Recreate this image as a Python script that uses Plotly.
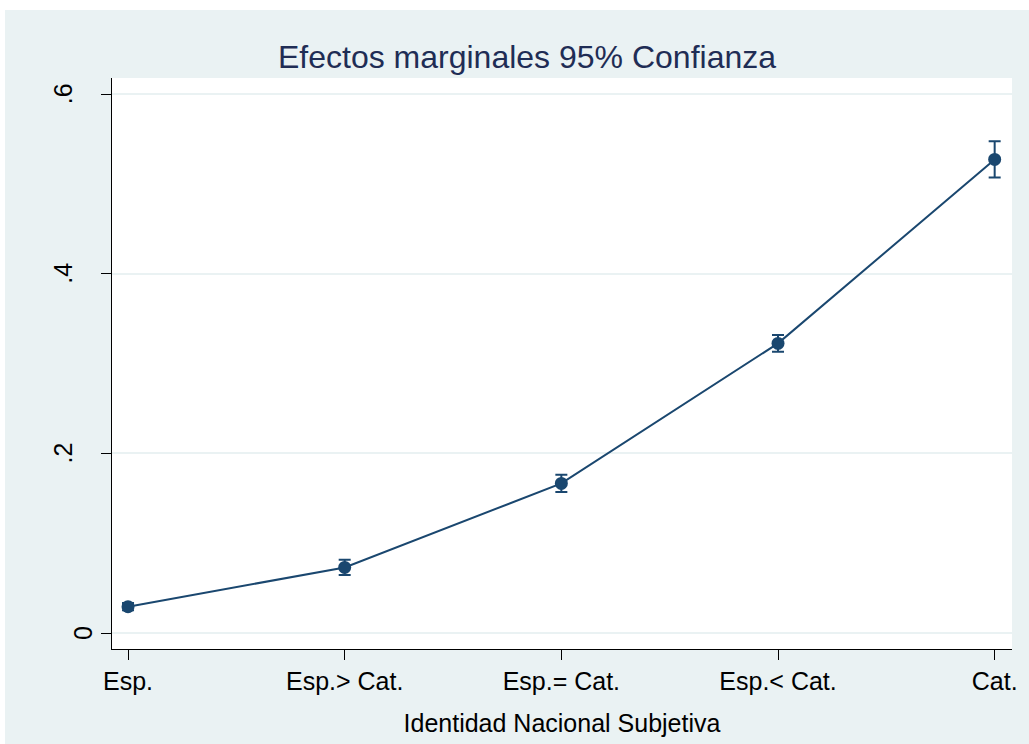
import plotly.graph_objects as go

categories = ["Esp.", "Esp.> Cat.", "Esp.= Cat.", "Esp.< Cat.", "Cat."]
margins = [0.0293, 0.0730, 0.1666, 0.3225, 0.5273]
ci_half = [0.0040, 0.0085, 0.0096, 0.0093, 0.0202]
y_tickvals = [0, 0.2, 0.4, 0.6]
y_ticktext = ["0", ".2", ".4", ".6"]

NAVY = "#1A476F"
BG = "#EAF2F3"
FONT = "Liberation Sans, Arial, sans-serif"

W, H = 1029, 744
L, R, T, B = 112, 17, 78, 95
pw, ph = W - L - R, H - T - B

fig = go.Figure()
fig.add_trace(go.Scatter(
    x=categories, y=margins, mode="lines+markers",
    line=dict(color=NAVY, width=2),
    marker=dict(color=NAVY, size=13),
    error_y=dict(type="data", array=ci_half, symmetric=True,
                 color=NAVY, thickness=2, width=6),
    showlegend=False, hoverinfo="x+y",
))

def px_x(p):
    return (p - L) / pw

def px_y(p):
    return (H - B - p) / ph

# y tick labels as rotated annotations (Stata offsets "0" differently)
annotations = []
for v, t in zip(y_tickvals, y_ticktext):
    cx = 83 if t == "0" else 63
    annotations.append(dict(
        x=px_x(cx), xref="paper", y=v, yref="y", text=t, showarrow=False,
        textangle=-90, xanchor="center", yanchor="middle",
        font=dict(size=25, color="black", family=FONT),
    ))

fig.update_layout(
    width=W, height=H,
    margin=dict(l=L, r=R, t=T, b=B),
    paper_bgcolor=BG, plot_bgcolor="white",
    font=dict(family=FONT, color="black", size=25),
    title=dict(text="Efectos marginales 95% Confianza",
               x=527 / W, xanchor="center", xref="container",
               y=1 - 57 / H, yanchor="middle", yref="container",
               font=dict(size=32, color="#1F2D55", family=FONT)),
    xaxis=dict(
        type="category", range=[-0.074, 4.08],
        showline=True, linecolor="black", linewidth=1.3, mirror=False,
        ticks="outside", ticklen=10, tickcolor="black", tickwidth=1.3,
        showgrid=False, zeroline=False,
        tickfont=dict(size=25, color="black"),
        title=dict(text="Identidad Nacional Subjetiva",
                   font=dict(size=25, color="black"), standoff=20),
    ),
    yaxis=dict(
        range=[-0.0178, 0.618],
        tickvals=y_tickvals, showticklabels=False,
        showline=True, linecolor="black", linewidth=1.3, mirror=False,
        ticks="outside", ticklen=10, tickcolor="black", tickwidth=1.3,
        showgrid=True, gridcolor=BG, gridwidth=2, zeroline=False,
    ),
    annotations=annotations,
    shapes=[
        dict(type="rect", xref="paper", yref="paper", layer="above",
             x0=px_x(0), x1=px_x(5), y0=px_y(H), y1=px_y(0),
             fillcolor="white", line=dict(width=0)),
        dict(type="rect", xref="paper", yref="paper", layer="above",
             x0=px_x(0), x1=px_x(W), y0=px_y(10), y1=px_y(0),
             fillcolor="white", line=dict(width=0)),
    ],
)

fig.write_html(
    "out.html",
    config={"displayModeBar": False},
    post_script="document.body.style.margin='0px';document.body.style.overflow='hidden';",
)
